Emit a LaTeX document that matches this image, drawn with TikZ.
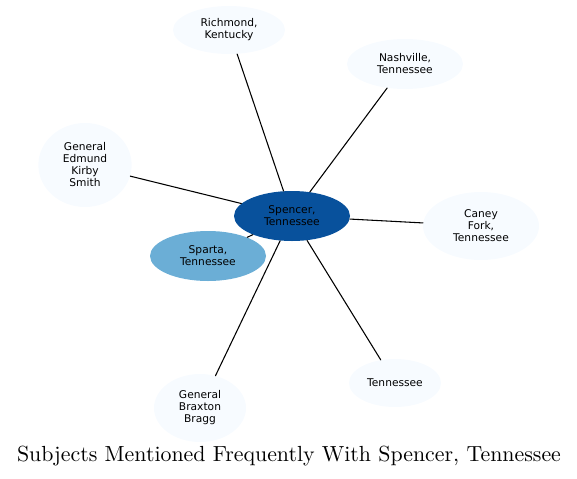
\documentclass[tikz,border=0pt]{standalone}
\usepackage{fontspec}
\newfontfamily\labelfont{DejaVu Sans}
\newfontfamily\titlefont{lmroman10-regular.otf}
\usetikzlibrary{shapes.geometric}
\definecolor{hubblue}{HTML}{08519C}
\definecolor{midblue}{HTML}{6BAED6}
\definecolor{paleblue}{HTML}{F7FBFF}

\begin{document}
\begin{tikzpicture}[x=0.75pt, y=-0.75pt, line join=round, line cap=round,
    topic/.style={ellipse, fill=paleblue, inner sep=0pt, align=center,
      font=\labelfont\fontsize{8}{9}\selectfont},
    link/.style={line width=0.8pt, black}]
      \useasboundingbox (0,0) rectangle (577,478);

      % hub and neighbours
      \node[topic, fill=hubblue, minimum width=87pt, minimum height=37.5pt] (spencer) at (292,216) {Spencer,\\Tennessee};
      \node[topic, fill=midblue, minimum width=87pt, minimum height=37.5pt] (sparta) at (208,256) {Sparta,\\Tennessee};
      \node[topic, minimum width=84pt, minimum height=36pt] (richmond) at (229,30) {Richmond,\\Kentucky};
      \node[topic, minimum width=87pt, minimum height=37.5pt] (nashville) at (405,64) {Nashville,\\Tennessee};
      \node[topic, minimum width=70pt, minimum height=63pt] (smith) at (85,165) {General\\Edmund\\Kirby\\Smith};
      \node[topic, minimum width=87pt, minimum height=51pt] (caney) at (481,226) {Caney\\Fork,\\Tennessee};
      \node[topic, minimum width=69pt, minimum height=36pt] (tennessee) at (395,383) {Tennessee};
      \node[topic, minimum width=69pt, minimum height=51pt] (bragg) at (200,408) {General\\Braxton\\Bragg};

      % connectors
      \foreach \other in {sparta,richmond,nashville,smith,caney,tennessee,bragg}
        \draw[link] (spencer) -- (\other);

      % title
      \node[font=\titlefont\fontsize{16.4}{19}\selectfont] (title) at (289,456) {Subjects Mentioned Frequently With Spencer, Tennessee};
\end{tikzpicture}
\end{document}
